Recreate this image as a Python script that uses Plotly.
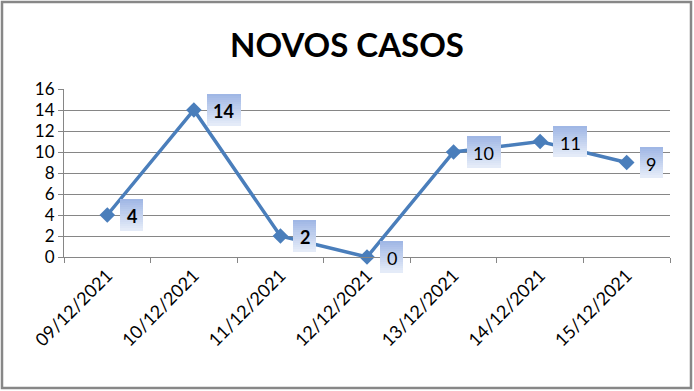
import plotly.graph_objects as go

categories = ["09/12/2021", "10/12/2021", "11/12/2021", "12/12/2021",
              "13/12/2021", "14/12/2021", "15/12/2021"]
values = [4, 14, 2, 0, 10, 11, 9]
label_bold = [True, True, True, False, False, False, False]
y_ticks = [0, 2, 4, 6, 8, 10, 12, 14, 16]
title_text = "NOVOS CASOS"

W, H = 694, 391
L, R, T, B = 64, 24, 89, 134
pw, ph = W - L - R, H - T - B

line_color = "#4a7ebb"
grid_color = "#868686"
font_main = "Lato, 'Liberation Sans', sans-serif"

fig = go.Figure()
fig.add_trace(go.Scatter(
    x=categories, y=values, mode="lines+markers",
    line=dict(color=line_color, width=3.5),
    marker=dict(symbol="diamond", size=12, color=line_color),
    cliponaxis=False,
    hoverinfo="skip", showlegend=False,
))

shapes = []
annotations = []
top_rgb = (160, 183, 229)
bot_rgb = (228, 235, 248)
N = 15
box_h = 31
strip = box_h / N
for c, v, b in zip(categories, values, label_bold):
    txt = str(v)
    bw = 12 + 11 * len(txt)
    left = 13
    for i in range(N):
        f = i / (N - 1)
        col = tuple(round(top_rgb[k] + (bot_rgb[k] - top_rgb[k]) * f) for k in range(3))
        yc = box_h / 2 - (i + 0.5) * strip
        annotations.append(dict(
            x=c, y=v, xref="x", yref="y", showarrow=False, text=" ",
            width=bw, height=strip + 0.6, borderpad=0, borderwidth=0,
            bgcolor="rgb(%d,%d,%d)" % col,
            xshift=left + bw / 2, yshift=yc,
            font=dict(size=1),
        ))
    annotations.append(dict(
        x=c, y=v, xref="x", yref="y", showarrow=False,
        text=("<b>%s</b>" % txt) if b else txt,
        xshift=left + bw / 2, yshift=-1,
        font=dict(family=font_main, size=18, color="black"),
    ))

# outer chart border
shapes.append(dict(
    type="rect", xref="paper", yref="paper",
    x0=(2 - L) / pw, x1=(691 - L) / pw,
    y0=-(388 - T - ph) / ph, y1=1 + (T - 2) / ph,
    line=dict(color="#878787", width=2.5), fillcolor="rgba(0,0,0,0)",
    layer="below",
))

fig.update_layout(
    width=W, height=H,
    margin=dict(l=L, r=R, t=T, b=B),
    paper_bgcolor="white", plot_bgcolor="white",
    title=dict(text="<b>%s</b>" % title_text, x=0.5, xref="container",
               xanchor="center", y=1 - 45 / H, yanchor="middle",
               font=dict(family=font_main, size=33, color="black")),
    shapes=shapes, annotations=annotations,
    xaxis=dict(
        type="category", range=[-0.5, len(categories) - 0.5],
        showgrid=False, showline=True, linecolor=grid_color, linewidth=1,
        ticks="outside", tickson="boundaries", ticklen=5, tickcolor=grid_color,
        tickangle=-45, tickfont=dict(family=font_main, size=18, color="black"),
    ),
    yaxis=dict(
        range=[0, 16], tickvals=y_ticks, showgrid=True, gridcolor=grid_color,
        gridwidth=1, showline=True, linecolor=grid_color, linewidth=1,
        ticks="outside", ticklen=5, tickcolor=grid_color, zeroline=False,
        tickfont=dict(family=font_main, size=17, color="black"),
    ),
)

fig.write_html("out.html", config={"displayModeBar": False},
               post_script="document.body.style.margin='0px';")
